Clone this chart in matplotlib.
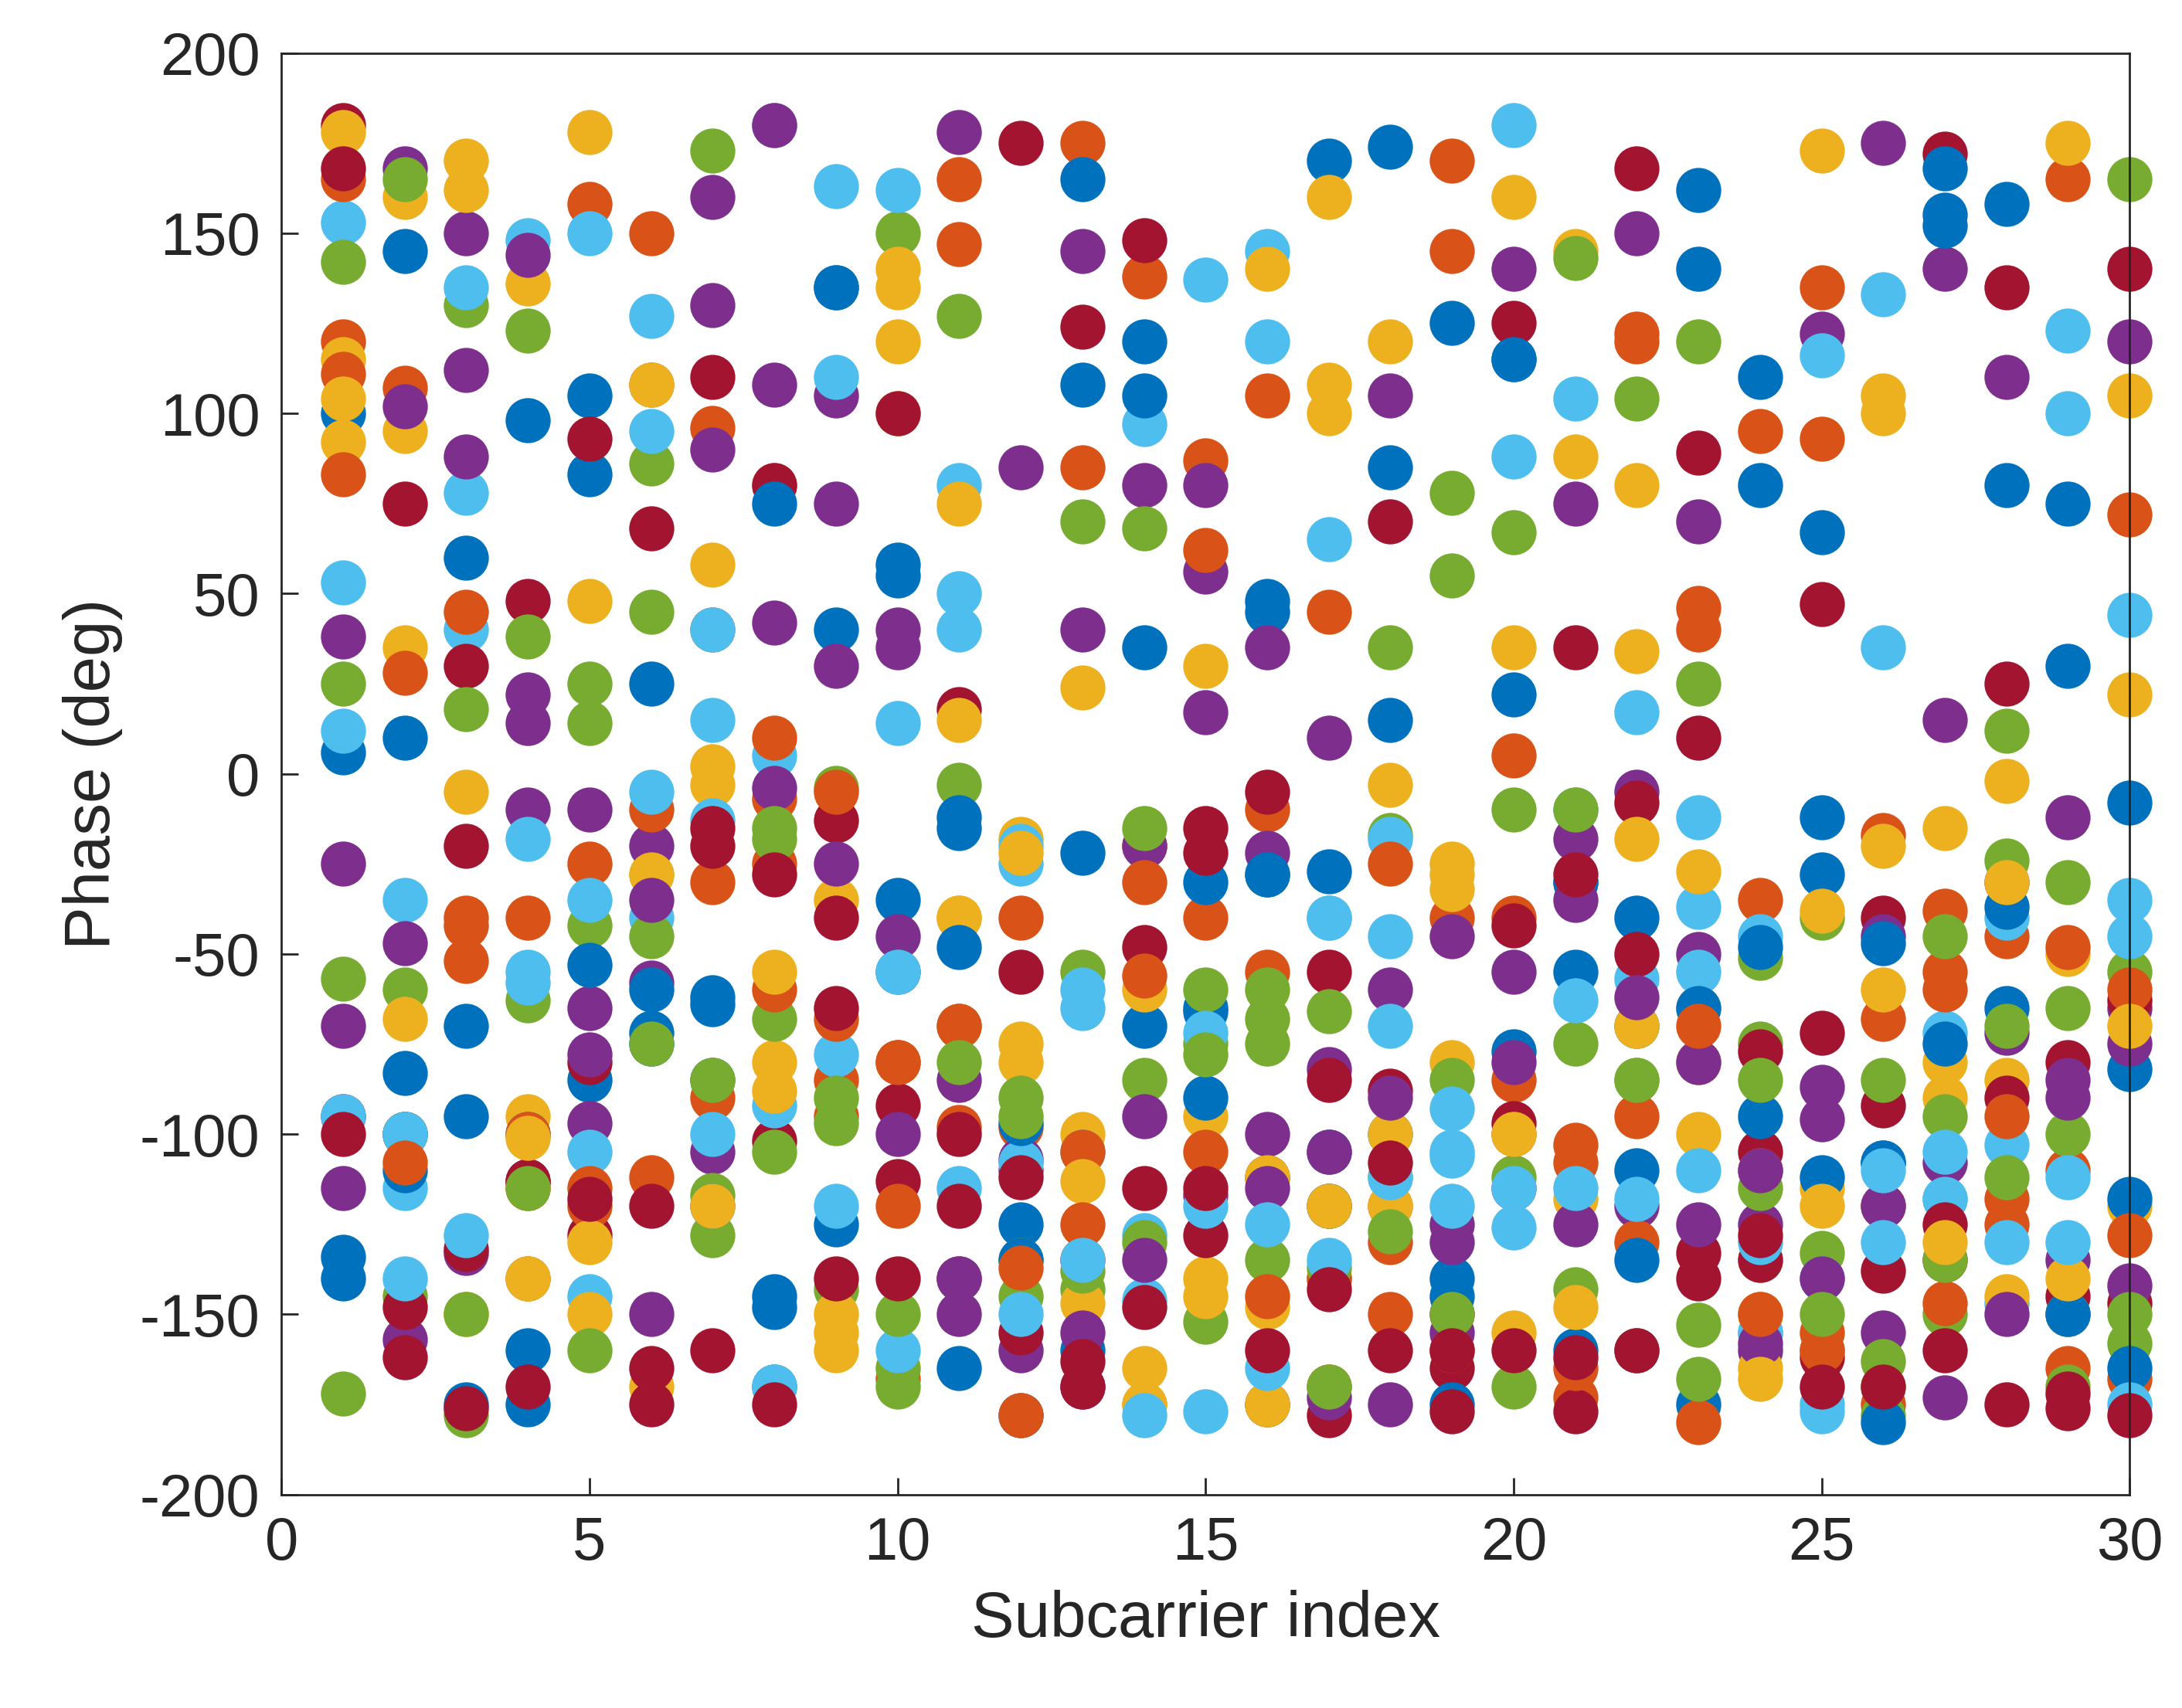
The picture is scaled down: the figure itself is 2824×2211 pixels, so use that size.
import matplotlib.pyplot as plt

# MATLAB default colour order
COLORS = ["#0072BD", "#D95319", "#EDB120", "#7E2F8E", "#77AC30", "#4DBEEE", "#A2142F"]

SUBCARRIERS = list(range(1, 31))

# Phase (deg) per packet, one value per subcarrier; colours cycle per packet
PHASES = [
    [100,145,-70,98,-85,-75,-62,-145,135,55,-15,-178,108,120,-66,45,170,85,-145,115,-30,-110,162,80,67,-108,155,158,-150,-82],
    [120,-100,-40,-115,158,108,96,-25,-85,-80,165,-40,85,138,-40,-55,-120,-120,145,-85,-103,122,46,95,135,-175,-55,-125,165,72],
    [92,35,-150,-95,178,-28,-3,-80,-155,135,-40,-18,-100,-175,-140,-148,160,120,-80,-155,88,34,-100,-150,173,100,-80,-85,175,-120],
    [-70,168,112,22,-65,-150,130,108,105,35,178,-160,145,80,56,35,10,105,-125,140,75,-120,70,-160,122,175,140,-72,-135,120],
    [25,-60,130,123,-42,86,173,-68,-4,150,-70,-145,70,68,-75,-68,-140,-112,55,67,-75,104,120,-51,-40,-170,-150,12,-65,165],
    [153,-35,78,148,-145,127,15,180,-78,162,80,-20,-105,-128,137,145,65,-45,-105,180,104,-160,-12,-155,116,133,-72,-147,123,44],
    [180,75,-20,48,-128,68,110,-102,-13,-92,18,-55,124,-48,-128,-175,-55,70,-165,125,35,168,89,-105,47,-40,172,25,-80,140],
    [6,10,-175,-160,105,25,-64,-170,40,-35,-165,-125,-160,35,-30,-28,-120,-100,-175,-77,-30,-40,-175,-95,-28,-108,168,-65,30,-118],
    [83,107,-52,-140,-25,150,-30,-60,-95,-168,147,-98,175,-20,87,-10,-140,-150,-40,5,-173,-130,-180,-110,-155,-120,-38,-45,-110,-128],
    [115,95,-5,136,48,-170,58,-55,-35,120,-40,-80,24,-175,30,-175,100,-3,-25,35,145,80,-65,-135,-115,105,-15,-2,-50,22],
    [-115,-47,150,-10,-97,-20,-105,42,30,-45,-85,-107,40,-20,17,-100,-82,-60,-45,-55,-35,-5,-50,-125,-87,-120,15,-30,-12,-65],
    [-57,-145,-178,38,14,45,-128,-18,-143,-165,127,-135,-55,-85,-152,-75,-137,-17,-85,-10,-143,-160,25,-75,-133,-178,-45,-24,-100,-55],
    [53,-115,40,-55,-105,-40,-13,5,110,14,40,-25,-65,97,-177,120,-40,-18,-106,88,-10,17,-37,-155,-177,35,-118,-40,-112,-35],
    [-95,-100,30,-113,-80,-165,-20,-28,-40,-113,-140,175,-135,-115,-15,-5,-178,-160,-177,-97,-177,-8,10,-77,-72,-92,-135,135,-145,-147],
    [-140,-83,-95,-175,83,-72,-85,-148,-125,-55,-48,-135,-22,-70,-65,48,-105,15,125,22,-55,-70,140,110,-12,-180,152,-37,75,-8],
    [165,28,-42,-40,-115,-112,40,-7,-68,-80,-98,-137,-105,-30,62,105,45,-130,170,-40,-165,120,40,-35,93,-17,-147,-118,-165,-168],
    [178,160,170,-140,-150,-28,2,80,-150,100,75,-75,-113,-60,-95,140,108,-120,-32,160,-118,-18,-80,-165,-38,-20,-90,-145,-150,105],
    [38,-157,-133,144,-10,-58,160,-4,75,40,-140,-110,-170,-95,80,-22,-105,-175,-155,-115,-18,150,-80,-158,-96,-45,-108,110,-90,-75],
    [142,-100,-150,-63,25,-45,-117,-105,-97,-170,-3,-90,-143,-130,-60,-135,-66,35,78,-112,143,-85,-168,-115,-160,-85,-135,-70,-170,-158],
    [12,-100,135,-18,150,95,40,-92,163,-160,50,-108,-60,-146,-72,-165,-40,-70,-93,-126,-63,-57,-55,-45,-140,-110,-118,-103,100,-45],
    [168,-148,-132,-113,93,-120,-15,80,-65,100,-100,-155,-170,148,-22,-112,-85,-88,-150,-42,-28,-50,-133,-135,-162,-138,-125,-90,-176,-63],
    [-134,-110,60,-100,-53,-60,-120,75,135,58,-12,-97,165,105,-90,-28,-27,174,-140,115,-160,-135,-65,-48,-112,-47,-75,80,-150,-165],
    [111,-108,45,-100,-120,-10,-90,10,-5,-120,-70,-178,-125,-56,-105,-145,-170,-25,-160,-100,-108,-95,-70,-150,-160,-68,-60,-95,-48,-60],
    [104,-68,162,-101,-130,108,-120,-88,-160,140,15,-22,-147,-165,-145,-112,-120,-100,-28,-100,-148,-70,-27,-168,-120,-60,-130,-30,-140,-70],
    [-25,102,88,14,-78,-35,90,180,-25,-100,-150,85,-155,-135,-117,-115,-173,-90,-130,-80,-125,-62,-125,-110,-140,-155,-173,-150,-85,-142],
    [-172,165,18,-115,-160,-75,-85,-15,-90,-150,-80,-95,-138,-15,-78,-60,-170,-127,-150,-170,-10,-85,-153,-85,-150,-163,-95,-112,-30,-150],
    [-95,-140,-128,-58,-35,-5,-100,-170,-120,-55,-115,-150,-135,-178,-120,-125,-135,-112,-120,-115,-115,-118,-110,-130,-175,-130,-105,-130,-130,-175],
    [-100,-162,-176,-170,-118,-175,-160,-175,-140,-140,-120,-112,-163,-148,-115,-160,-143,-108,-160,-160,-162,-160,-140,-128,-170,-170,-160,-175,-172,-178],
]

TEXT = "#262626"
plt.rcParams['font.family'] = ['Liberation Sans', 'DejaVu Sans']
plt.rcParams['axes.unicode_minus'] = False

fig = plt.figure(figsize=(14.12, 11.055), dpi=200)
ax = fig.add_axes([0.129, 0.125, 0.847, 0.844])

for i, row in enumerate(PHASES):
    ax.plot(SUBCARRIERS, row, 'o', color=COLORS[i % len(COLORS)],
            markersize=21, markeredgewidth=0, clip_on=False)

ax.set_xlim(0, 30)
ax.set_ylim(-200, 200)
ax.set_xticks(range(0, 31, 5))
ax.set_yticks(range(-200, 201, 50))
ax.tick_params(direction='in', labelsize=28, colors=TEXT, length=8, width=1.0,
               top=False, right=False, pad=10)
for s in ax.spines.values():
    s.set_color(TEXT)
    s.set_linewidth(1.0)
ax.set_xlabel("Subcarrier index", fontsize=30, color=TEXT, labelpad=8)
ax.set_ylabel("Phase (deg)", fontsize=30, color=TEXT, labelpad=8)

fig.savefig("out.png")
